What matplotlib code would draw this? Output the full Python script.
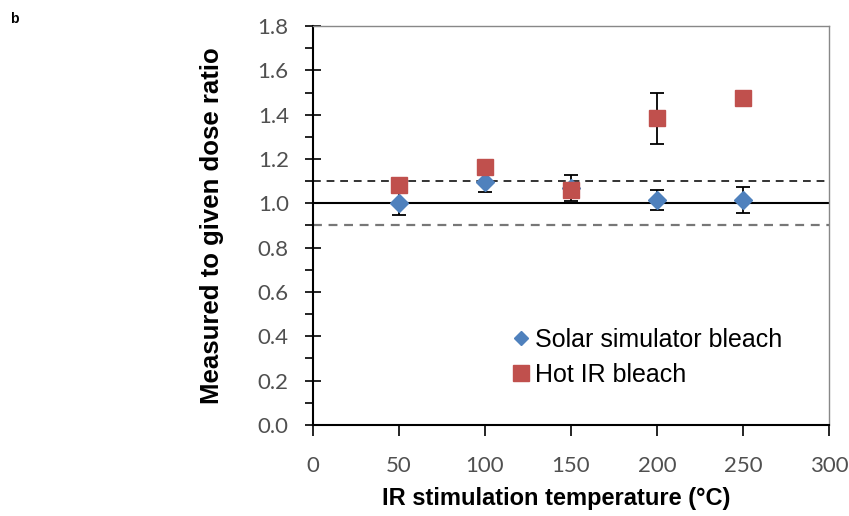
import matplotlib
matplotlib.use("Agg")
import matplotlib.pyplot as plt
from matplotlib.ticker import MultipleLocator
from matplotlib.lines import Line2D

# IR stimulation temperatures (deg C)
temps = [50, 100, 150, 200, 250]

# Solar simulator bleach
solar_ratio = [1.00, 1.097, 1.069, 1.015, 1.015]
solar_err = [0.053, 0.045, 0.06, 0.045, 0.058]

# Hot IR bleach
hot_ratio = [1.083, 1.165, 1.06, 1.383, 1.476]
hot_err = [0.02, 0.02, 0.02, 0.117, 0.015]

x_ticks = [0, 50, 100, 150, 200, 250, 300]
y_ticks = [0.0, 0.2, 0.4, 0.6, 0.8, 1.0, 1.2, 1.4, 1.6, 1.8]

blue = "#4F81BD"
red = "#C0504D"

fig = plt.figure(figsize=(8.49, 5.16), dpi=100)
ax = fig.add_axes([0.3687, 0.1764, 0.6077, 0.7732])

# reference lines
ax.axhline(1.0, color="black", lw=1.5, zorder=1)
ax.axhline(1.1, color="#333333", lw=1.4, ls=(0, (4, 3)), zorder=1)
ax.axhline(0.9, color="#777777", lw=1.6, ls=(0, (4, 3)), zorder=1)

ax.errorbar(temps, solar_ratio, yerr=solar_err, fmt="D", color=blue, ms=9,
            ecolor="black", elinewidth=1.3, capsize=5, capthick=1.3, zorder=3)
ax.errorbar(temps, hot_ratio, yerr=hot_err, fmt="s", color=red, ms=12,
            ecolor="black", elinewidth=1.3, capsize=5, capthick=1.3, zorder=4)

ax.set_xlim(0, 300)
ax.set_ylim(0, 1.8)
ax.set_xticks(x_ticks)
ax.set_yticks(y_ticks)
ax.set_yticklabels([f"{v:.1f}" for v in y_ticks])
ax.yaxis.set_minor_locator(MultipleLocator(0.1))

tick_font = "Lato"
for lab in ax.get_xticklabels() + ax.get_yticklabels():
    lab.set_fontfamily(tick_font)
    lab.set_fontsize(16)
    lab.set_color("#505050")

ax.tick_params(axis="y", which="major", direction="inout", length=11, width=1.2, pad=12)
ax.tick_params(axis="y", which="minor", direction="out", length=6, width=1.2)
ax.tick_params(axis="x", which="major", direction="out", length=8, width=1.2, pad=14)

ax.spines["left"].set_linewidth(1.5)
ax.spines["bottom"].set_linewidth(1.5)
for side in ("top", "right"):
    ax.spines[side].set_color("#888888")
    ax.spines[side].set_linewidth(1.0)

ax.set_xlabel("IR stimulation temperature (°C)", fontsize=17, fontweight="bold",
              family="Liberation Sans", labelpad=8)
ax.xaxis.set_label_coords(0.472, -0.155)
ax.set_ylabel("Measured to given dose ratio", fontsize=18.5, fontweight="bold",
              family="Liberation Sans", labelpad=24)

handles = [
    Line2D([], [], ls="none", marker="D", color=blue, ms=7),
    Line2D([], [], ls="none", marker="s", color=red, ms=11),
]
ax.legend(handles, ["Solar simulator bleach", "Hot IR bleach"],
          loc="lower left", bbox_to_anchor=(0.36, 0.07), frameon=False,
          prop={"family": "Liberation Sans", "size": 18},
          handletextpad=0.05, handlelength=1.0, labelspacing=0.45,
          borderaxespad=0)

fig.text(0.012, 0.955, "b", fontsize=10, fontweight="bold", family="Liberation Sans")

fig.savefig("out.png", dpi=100)
